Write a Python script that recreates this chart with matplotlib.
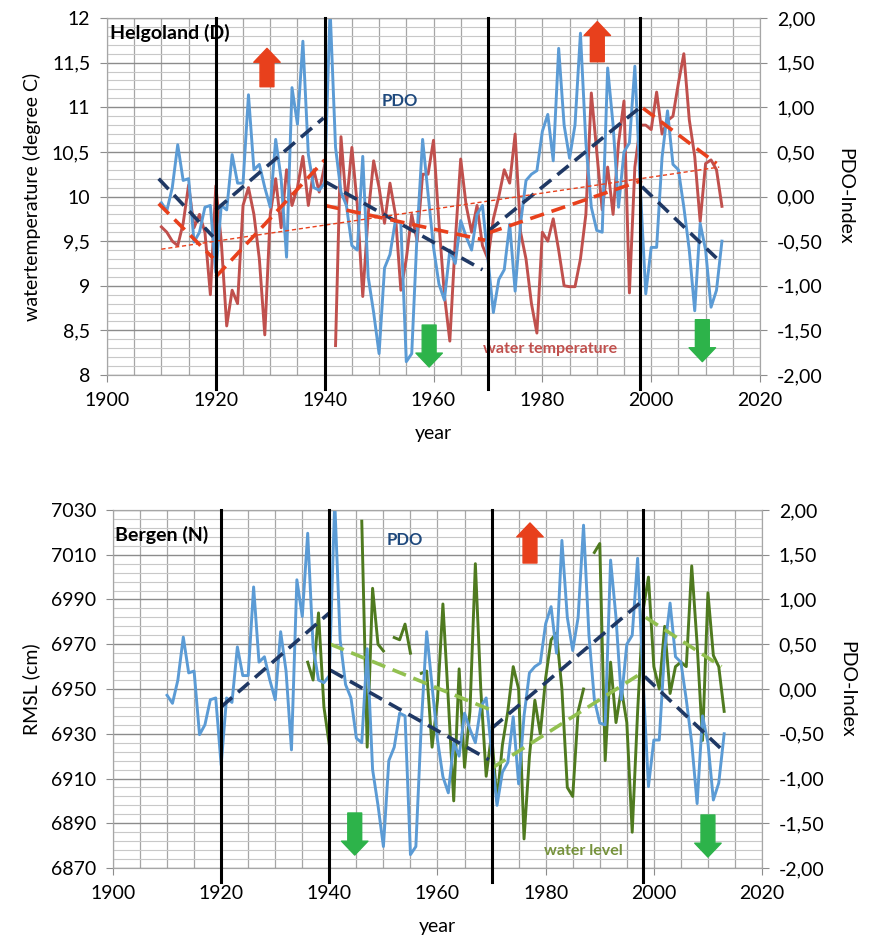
import numpy as np
import matplotlib
matplotlib.use("Agg")
import matplotlib.pyplot as plt
from matplotlib.ticker import MultipleLocator, FixedLocator, FuncFormatter

plt.rcParams['font.family'] = ['Lato', 'DejaVu Sans']

# ---------------- data ----------------
pdo_years = np.arange(1910, 2014)
pdo = [-0.07, -0.16, 0.10, 0.58, 0.18, 0.20, -0.51, -0.40, -0.12, -0.10,
       -0.85, -0.10, -0.15, 0.47, 0.15, 0.15, 1.14, 0.30, 0.36, 0.10,
       -0.12, 0.64, 0.20, -0.68, 1.22, 0.81, 1.74, 0.47, 0.10, 0.07,
       0.15, 2.10, 0.55, 0.05, -0.10, -0.55, -0.60, 0.45, -0.90, -1.30,
       -1.76, -0.80, -0.65, -0.27, -0.30, -1.85, -1.76, -0.40, 0.64, 0.03,
       -0.57, -0.98, -1.16, -0.60, -0.75, -0.27, -0.45, -0.60, -0.20, -0.10,
       -0.70, -1.30, -0.93, -0.82, -0.31, -1.06, -0.30, 0.18, 0.25, 0.29,
       0.73, 0.92, 0.40, 1.66, 0.80, 0.43, 0.80, 1.83, 0.60, -0.12,
       -0.38, -0.40, 1.44, 0.80, -0.12, 0.50, 0.60, 1.46, 0.10, -1.09,
       -0.57, -0.57, 0.44, 0.96, 0.36, 0.30, -0.12, -0.60, -1.28, -0.30,
       -0.60, -1.24, -1.05, -0.50]

temp_years = np.arange(1910, 2014)
temp = [9.66, 9.60, 9.50, 9.45, 9.70, 10.13, 9.65, 9.80, 9.60, 8.90,
        10.12, 9.50, 8.55, 8.95, 8.80, 9.90, 10.10, 9.80, 9.30, 8.45,
        9.80, 10.20, 9.65, 10.30, 9.90, 10.10, 10.45, 9.90, 10.30, 10.05,
        10.35, np.nan, 8.33, 10.67, 9.90, 10.55, 9.90, 8.88, 9.80, 10.40,
        10.10, 9.70, 10.15, 9.80, 8.95, 9.30, 9.80, 9.50, 10.25, 10.25,
        10.63, 9.70, 8.90, 8.38, 9.50, 10.42, 9.90, 9.60, 9.90, 9.45,
        9.30, 9.75, 10.00, 10.30, 10.15, 10.70, 9.60, 9.30, 8.80, 8.47,
        9.60, 9.50, 9.75, 9.40, 9.00, 8.99, 8.99, 9.30, 9.80, 11.16,
        10.50, 9.85, 10.33, 9.80, 10.60, 11.07, 8.92, 10.33, 10.80, 10.80,
        10.75, 11.17, 10.70, 10.85, 10.90, 11.27, 11.60, 10.86, 10.45, 9.72,
        10.37, 10.41, 10.30, 9.89]

level_years = np.arange(1936, 2014)
level = [6962, 6954, 6984, 6942,
         6925, np.nan, np.nan, np.nan, np.nan, np.nan, 7025, 6924, 6995, 6970,
         6967, np.nan, 6973, 6972, 6979, 6966, np.nan, 6957, 6958, 6924,
         6945, 6988, 6945, 6900, 6959, 6915, 6940, 7006, 6950, 6911,
         6930, 6900, 6925, 6940, 6960, 6950, 6883, 6920, 6945, 6930,
         6955, 6972, 6975, 6950, 6906, 6902, 6940, 6950, np.nan, 7011,
         7015, 6918, 6962, 6935, 6950, 6935, 6886, 6940, 6985, 7000,
         6960, 6950, 6978, 6948, 6960, 6962, 6960, 7005, 6970, 6927,
         6993, 6965, 6960, 6940]

# trend segments (x0, x1, y0, y1)
pdo_trend_top = [(1909.5, 1919.5, 0.20, -0.45), (1920, 1939.8, -0.15, 0.88),
                 (1940, 1969, 0.17, -0.82), (1970, 1998, -0.39, 1.00),
                 (1998.3, 2012, 0.11, -0.69)]
temp_trend = [(1909.5, 1919.5, 9.92, 9.31), (1920, 1940, 9.10, 10.41),
              (1940, 1969.5, 9.90, 9.51), (1970, 1998.3, 9.59, 10.18),
              (1998.5, 2012, 10.99, 10.37)]
temp_trend_all = (1910, 2012.5, 9.41, 10.33)

pdo_trend_bot = [(1920, 1940, -0.20, 0.85), (1940.2, 1969.5, 0.21, -0.79),
                 (1970, 1998, -0.44, 0.99), (1998.3, 2012.3, 0.14, -0.66)]
level_trend = [(1940.2, 1969.5, 6970, 6941), (1970.3, 1998.3, 6915, 6958),
               (1998.5, 2012.5, 6982, 6960)]

breaks = [1920, 1940, 1970, 1998]

# ---------------- colours ----------------
c_pdo = '#5B9BD5'
c_navy = '#1F3864'
c_temp = '#C0504D'
c_trend_red = '#E8401C'
c_level = '#4F7A1F'
c_level_tr = '#92C050'
c_up = '#E8401C'
c_down = '#2DB34A'


def comma(fmt):
    return FuncFormatter(lambda v, p: (fmt % v).replace('.', ','))


def setup(ax, ax2, ylim, ymaj, ymin, yfmt):
    ax.set_xlim(1900, 2020)
    ax.set_ylim(*ylim)
    ax2.set_ylim(-2, 2)
    ax.xaxis.set_major_locator(MultipleLocator(20))
    ax.xaxis.set_minor_locator(MultipleLocator(5))
    ax.yaxis.set_major_locator(FixedLocator(np.arange(ylim[0], ylim[1] + ymaj / 2, ymaj)))
    ax.yaxis.set_minor_locator(FixedLocator(np.arange(ylim[0], ylim[1] + ymin / 2, ymin)))
    ax.yaxis.set_major_formatter(comma(yfmt))
    ax2.yaxis.set_major_locator(MultipleLocator(0.5))
    ax2.yaxis.set_major_formatter(comma('%.2f'))
    ax.grid(which='both', axis='x', color='#a6a6a6', lw=0.9)
    ax.grid(which='major', axis='y', color='#8c8c8c', lw=1.0)
    ax.grid(which='minor', axis='y', color='#c8c8c8', lw=0.8)
    ax.set_axisbelow(True)
    for a in (ax, ax2):
        for s in a.spines.values():
            s.set_color('#a6a6a6')
        a.tick_params(which='major', labelsize=14, color='#8c8c8c', length=5, pad=7)
        a.tick_params(which='minor', length=0)
    ax.set_xlabel('year', fontsize=14, labelpad=12)
    ax2.set_ylabel('PDO-Index', fontsize=14, rotation=270, labelpad=22)
    for b in breaks:
        ax2.axvline(b, ymin=-0.04, ymax=1, color='black', lw=2.2, clip_on=False, zorder=6)


def arrow(ax2, ax, x, y0, y1, color):
    ax2.annotate('', xy=(x, y1), xytext=(x, y0), xycoords=ax.transData,
                 textcoords=ax.transData,
                 arrowprops=dict(arrowstyle='simple,head_width=1.9,head_length=1.0,tail_width=1.0',
                                 color=color, mutation_scale=10, shrinkA=0, shrinkB=0),
                 zorder=7)


fig = plt.figure(figsize=(8.69, 9.43), dpi=100)

# ---------------- Helgoland ----------------
ax = fig.add_axes([0.1231, 0.6023, 0.7515, 0.3786])
ax2 = ax.twinx()
setup(ax, ax2, (8, 12), 0.5, 0.1, '%g')
ax.set_ylabel('watertemperature (degree C)', fontsize=14, labelpad=8)

ax.plot(temp_years, temp, color=c_temp, lw=2.1)
ax2.plot(pdo_years, pdo, color=c_pdo, lw=2.1)
for x0, x1, y0, y1 in pdo_trend_top:
    ax2.plot([x0, x1], [y0, y1], color=c_navy, lw=2.6, dashes=(4, 2.2))
for x0, x1, y0, y1 in temp_trend:
    ax2.plot([x0, x1], [y0, y1], color=c_trend_red, lw=2.6, dashes=(4, 2.2),
             transform=ax.transData)
x0, x1, y0, y1 = temp_trend_all
ax2.plot([x0, x1], [y0, y1], color=c_trend_red, lw=1.0, dashes=(3, 2),
         transform=ax.transData)
ax2.set_ylim(-2, 2)

ax2.text(1900.5, 11.83, 'Helgoland (D)', transform=ax.transData, fontsize=14,
         fontweight='bold', ha='left', va='center', zorder=8)
ax2.text(1953.9, 11.07, 'PDO', transform=ax.transData, fontsize=12,
         fontweight='bold', color='#1F497D', ha='center', va='center')
ax2.text(1981.4, 8.29, 'water temperature', transform=ax.transData, fontsize=11.5,
         fontweight='bold', color=c_temp, ha='center', va='center')
arrow(ax2, ax, 1929.4, 11.23, 11.66, c_up)
arrow(ax2, ax, 1990.1, 11.51, 11.96, c_up)
arrow(ax2, ax, 1959.2, 8.56, 8.09, c_down)
arrow(ax2, ax, 2009.4, 8.62, 8.15, c_down)

# ---------------- Bergen ----------------
bx = fig.add_axes([0.1300, 0.0795, 0.7469, 0.3797])
bx2 = bx.twinx()
setup(bx, bx2, (6870, 7030), 20, 4, '%d')
bx.set_ylabel('RMSL (cm)', fontsize=14, labelpad=8)

bx.plot(level_years, level, color=c_level, lw=2.1)
bx2.plot(pdo_years, pdo, color=c_pdo, lw=2.1)
for x0, x1, y0, y1 in pdo_trend_bot:
    bx2.plot([x0, x1], [y0, y1], color=c_navy, lw=2.6, dashes=(4, 2.2))
for x0, x1, y0, y1 in level_trend:
    bx2.plot([x0, x1], [y0, y1], color=c_level_tr, lw=2.6, dashes=(4, 2.2),
             transform=bx.transData)
bx2.set_ylim(-2, 2)

bx2.text(1900.3, 7018.8, 'Bergen (N)', transform=bx.transData, fontsize=14,
         fontweight='bold', ha='left', va='center', zorder=8)
bx2.text(1954, 7016.6, 'PDO', transform=bx.transData, fontsize=12,
         fontweight='bold', color='#1F497D', ha='center', va='center')
bx2.text(1986.9, 6877.6, 'water level', transform=bx.transData, fontsize=11.5,
         fontweight='bold', color='#76923C', ha='center', va='center')
arrow(bx2, bx, 1977.1, 7006.3, 7024.2, c_up)
arrow(bx2, bx, 1944.7, 6894.6, 6875.8, c_down)
arrow(bx2, bx, 2010.0, 6893.7, 6874.9, c_down)

fig.savefig('out.png', dpi=100)
